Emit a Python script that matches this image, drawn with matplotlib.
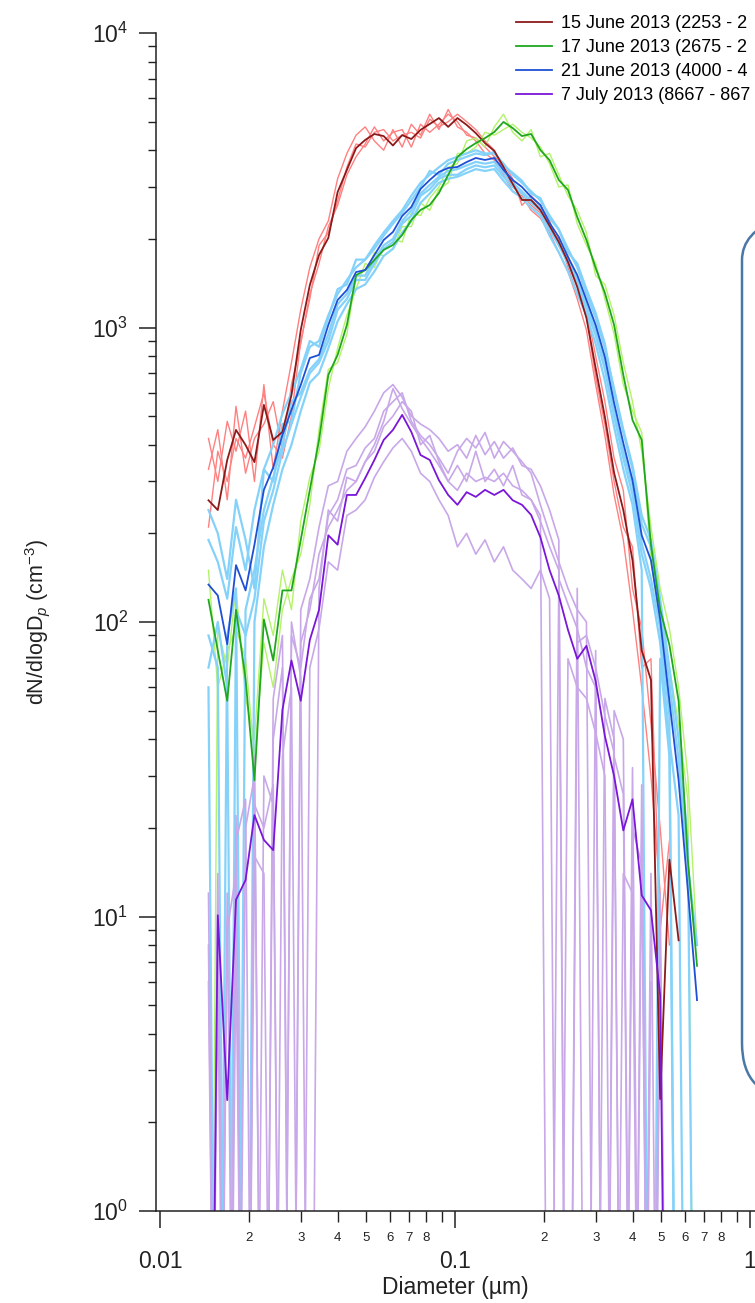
import numpy as np
import matplotlib
matplotlib.use("Agg")
import matplotlib.pyplot as plt
from matplotlib.ticker import LogLocator, FixedLocator, FuncFormatter, NullFormatter
from matplotlib.patches import FancyBboxPatch
from matplotlib.transforms import IdentityTransform

nan = np.nan

# mobility diameter bins (um)
d_um = [0.0146, 0.0157, 0.0169, 0.0181, 0.0195, 0.0209, 0.0225, 0.0242, 0.0260,
        0.0279, 0.0300, 0.0322, 0.0346, 0.0372, 0.0400, 0.0430, 0.0462, 0.0496,
        0.0533, 0.0573, 0.0616, 0.0662, 0.0711, 0.0764, 0.0821, 0.0882, 0.0948,
        0.1019, 0.1095, 0.1176, 0.1264, 0.1359, 0.1460, 0.1569, 0.1686, 0.1811,
        0.1947, 0.2092, 0.2248, 0.2415, 0.2596, 0.2789, 0.2997, 0.3221, 0.3461,
        0.3719, 0.3996, 0.4294, 0.4615, 0.4959, 0.5329, 0.5726, 0.6153, 0.6612]

# legend text as far as it is visible in the (cropped) original
labels = ["15 June 2013 (2253 - 2", "17 June 2013 (2675 - 2",
          "21 June 2013 (4000 - 4", "7 July 2013 (8667 - 867"]

# averaged size distributions, dN/dlogDp (cm-3)
jun15 = [259, 240, 355, 449, 399, 349, 546, 415, 442,
         590, 981, 1394, 1762, 2014, 2884, 3428, 4066, 4334,
         4540, 4467, 4150, 4500, 4365, 4688, 4909, 5143, 4800,
         5143, 4875, 4571, 4228, 3975, 3508, 3070, 2710, 2710,
         2506, 2213, 1951, 1669, 1372, 1077, 728, 497, 321,
         240, 162, 80, 63.5, 2.4, 15.6, 8.3, nan, nan]
jun17 = [119, 80, 54, 110, 64, 29, 102, 74, 128,
         128, 190, 281, 415, 690, 807, 1020, 1505, 1567,
         1695, 1834, 1906, 2061, 2317, 2506, 2606, 2862, 3296,
         3793, 4037, 4228, 4397, 4612, 4989, 4755, 4467, 4540,
         4005, 3700, 3169, 2931, 2372, 1982, 1592, 1310, 1020,
         690, 485, 415, 183, 110, 83.6, 54, 15.6, 6.8]
jun21 = [134, 123, 84, 156, 128, 183, 281, 335, 431,
         525, 638, 788, 807, 1020, 1240, 1341, 1543, 1567,
         1762, 1982, 2110, 2392, 2566, 2953, 3169, 3374, 3480,
         3508, 3646, 3764, 3706, 3764, 3428, 3169, 3000, 2775,
         2606, 2264, 2029, 1735, 1507, 1240, 1020, 794, 554,
         405, 303, 197, 162, 102, 54, 29, 12.3, 5.2]
jul7 = [0.01, 10.1, 2.38, 11.4, 13.3, 22.1, 18.2, 16.8, 50.3,
        74, 54, 86.9, 110, 197, 183, 270, 270, 308,
        355, 415, 449, 505, 442, 369, 355, 303, 270,
        250, 276, 266, 281, 270, 281, 259, 250, 231,
        194, 150, 123, 94, 75, 83, 63, 41, 30,
        19.6, 25, 11.8, 10.5, 5.4, 0.01, nan, nan, nan]

# individual scans
jun15_scans = [
    [420, 300, 480, 380, 520, 300, 640, 330, 520,
     760, 1150, 1600, 2000, 2300, 3200, 3900, 4500, 4800,
     4300, 4000, 4700, 4100, 4900, 4500, 5300, 4700, 5500,
     4800, 4600, 4300, 3900, 3700, 3300, 2900, 2800, 2500,
     2350, 2100, 1800, 1550, 1250, 980, 640, 430, 270,
     190, 110, 60, 30, 12, nan, nan, nan, nan],
    [330, 450, 260, 540, 320, 420, 470, 560, 380,
     640, 880, 1300, 1650, 2200, 2600, 3300, 3800, 4200,
     4800, 4300, 4600, 4700, 4100, 4900, 4600, 4900, 5300,
     5000, 4500, 4400, 4100, 3800, 3600, 3200, 2600, 2800,
     2600, 2300, 1900, 1750, 1450, 1150, 800, 560, 360,
     280, 130, 95, 45, 20, 8, nan, nan, nan],
    [210, 380, 300, 420, 360, 460, 600, 400, 360,
     500, 900, 1250, 1900, 2100, 2700, 3500, 4200, 4100,
     4600, 4700, 4300, 4500, 4600, 4400, 5100, 4800, 5000,
     5300, 5000, 4700, 4300, 4000, 3400, 3000, 2850, 2600,
     2450, 2150, 2000, 1600, 1300, 1100, 680, 470, 300,
     210, 180, 70, 75, 9, 18, nan, nan, nan],
]
jun17_scans = [
    [0.01, 95, 70, 130, 55, 40, 120, 90, 150,
     110, 220, 310, 380, 620, 850, 1100, 1350, 1650,
     1600, 1900, 2000, 1950, 2450, 2400, 2750, 3000, 3500,
     3600, 4300, 4400, 4100, 4800, 5300, 4600, 4300, 4700,
     3800, 3900, 3300, 2800, 2500, 2100, 1500, 1400, 1100,
     760, 560, 380, 210, 130, 95, 60, 30, 8],
    [150, 60, 80, 95, 75, 35, 85, 60, 110,
     140, 170, 250, 450, 720, 760, 950, 1500, 1500,
     1800, 1750, 1850, 2200, 2200, 2650, 2500, 2950, 3100,
     3900, 3900, 4100, 4600, 4500, 4700, 4900, 4600, 4400,
     4100, 3600, 3000, 3050, 2250, 1900, 1650, 1250, 950,
     640, 520, 440, 160, 100, 70, 45, 25, 0.01],
]
jun21_scans = [
    [190, 160, 120, 210, 150, 240, 330, 300, 470,
     480, 700, 860, 900, 1100, 1300, 1450, 1600, 1700,
     1900, 2100, 2300, 2500, 2800, 3100, 3300, 3500, 3700,
     3800, 3900, 4000, 3900, 3900, 3600, 3300, 3100, 2900,
     2700, 2400, 2150, 1850, 1600, 1300, 1080, 850, 620,
     450, 340, 230, 190, 120, 70, 40, 18, 0.01],
    [90, 70, 0.01, 110, 90, 120, 220, 280, 380,
     470, 580, 700, 760, 900, 1150, 1250, 1450, 1450,
     1650, 1850, 1950, 2250, 2400, 2800, 2950, 3200, 3300,
     3300, 3450, 3550, 3500, 3550, 3250, 3000, 2850, 2650,
     2500, 2150, 1900, 1650, 1400, 1150, 940, 720, 500,
     360, 270, 170, 130, 85, 40, 22, 0.01, nan],
    [240, 200, 140, 260, 190, 130, 330, 400, 510,
     600, 720, 900, 860, 1080, 1350, 1400, 1700, 1700,
     1850, 2050, 2250, 2450, 2700, 3000, 3400, 3300, 3600,
     3700, 3800, 3900, 3850, 3950, 3550, 3350, 3150, 2850,
     2750, 2350, 2150, 1800, 1650, 1350, 1120, 880, 600,
     440, 330, 215, 180, 110, 62, 34, 15, 8],
    [70, 100, 60, 0.01, 110, 150, 240, 310, 400,
     560, 600, 720, 780, 950, 1200, 1300, 1500, 1500,
     1700, 1900, 2000, 2300, 2500, 2850, 3050, 3250, 3400,
     3450, 3550, 3650, 3600, 3650, 3350, 3100, 2900, 2700,
     2550, 2200, 1950, 1700, 1450, 1200, 980, 760, 520,
     380, 290, 185, 140, 95, 48, 0.01, nan, nan],
    [60, 0.01, 90, 130, 0.01, 100, 180, 250, 330,
     400, 520, 650, 700, 850, 1050, 1200, 1350, 1400,
     1550, 1750, 1850, 2100, 2300, 2650, 2850, 3100, 3200,
     3250, 3350, 3450, 3400, 3450, 3150, 2900, 2750, 2550,
     2400, 2050, 1800, 1550, 1300, 1100, 880, 660, 460,
     330, 250, 150, 0.01, 75, 35, 0.01, nan, nan],
]
jul7_scans = [
    [0.01, 14, 0.01, 18, 25, 0.01, 30, 24, 0.01,
     90, 70, 120, 140, 230, 260, 330, 340, 390,
     420, 520, 560, 600, 480, 430, 400, 360, 320,
     380, 420, 390, 440, 360, 410, 380, 350, 320,
     250, 200, 160, 130, 110, 100, 0.01, 55, 40,
     0.01, 32, 0.01, 14, 0.01, nan, nan, nan, nan],
    [8, 0.01, 12, 0.01, 20, 30, 0.01, 40, 70,
     0.01, 85, 110, 170, 210, 240, 280, 300, 350,
     380, 460, 500, 560, 520, 400, 430, 350, 300,
     340, 300, 380, 300, 330, 290, 340, 270, 260,
     230, 0.01, 140, 115, 95, 70, 60, 0.01, 35,
     26, 0.01, 18, 0.01, 6, nan, nan, nan, nan],
    [0.01, 6, 0.01, 8, 0.01, 16, 14, 0.01, 35,
     60, 0.01, 70, 95, 160, 150, 230, 240, 260,
     310, 350, 390, 420, 380, 320, 300, 260, 230,
     180, 200, 170, 190, 160, 180, 150, 140, 130,
     150, 120, 0.01, 75, 60, 55, 42, 30, 0.01,
     14, 12, 0.01, 6, nan, nan, nan, nan, nan],
    [6, 0.01, 9, 14, 0.01, 24, 20, 28, 0.01,
     100, 65, 0.01, 130, 240, 220, 310, 300, 350,
     400, 480, 620, 530, 470, 420, 380, 340, 300,
     280, 320, 300, 310, 300, 320, 290, 280, 260,
     220, 180, 150, 0.01, 85, 90, 70, 48, 36,
     0.01, 20, 15, 0.01, 8, 0.01, nan, nan, nan],
    [12, 0.01, 0.01, 22, 0.01, 35, 0.01, 55, 90,
     0.01, 110, 140, 210, 290, 300, 380, 420, 460,
     520, 600, 640, 580, 500, 470, 450, 420, 380,
     400, 360, 430, 370, 410, 360, 390, 340, 330,
     290, 240, 190, 0.01, 130, 0.01, 80, 0.01, 50,
     40, 0.01, 28, 0.01, 12, 0.01, nan, nan, nan],
]

main_colors = ["#8c1a1a", "#1fa81f", "#1f4fd6", "#7a16d8"]
scan_colors = ["#ff8080", "#b4f26a", "#84d2fa", "#c8a8e8"]
scan_widths = [1.0, 1.0, 1.6, 1.2]

plt.rcParams['font.family'] = ['Liberation Sans', 'DejaVu Sans']
plt.rcParams['mathtext.fontset'] = 'custom'
plt.rcParams['mathtext.rm'] = 'Liberation Sans'
plt.rcParams['mathtext.it'] = 'Liberation Sans:italic'

W, H = 755, 1303
fig = plt.figure(figsize=(W / 100, H / 100), dpi=100)
ax = fig.add_axes([156 / W, 92 / H, 617.4 / W, 1178 / H])

all_scans = [jun15_scans, jun17_scans, jun21_scans, jul7_scans]
for scans, c, w in zip(all_scans, scan_colors, scan_widths):
    for s in scans:
        ax.plot(d_um, s, color=c, lw=w)

handles = []
for y, c, lab in zip([jun15, jun17, jun21, jul7], main_colors, labels):
    h, = ax.plot(d_um, y, color=c, lw=1.3, label=lab)
    handles.append(h)

ax.set_xscale('log')
ax.set_yscale('log')
ax.set_xlim(0.009693, 1.2)
ax.set_ylim(1, 1e4)
for s in ['top', 'right']:
    ax.spines[s].set_visible(False)
for s in ['left', 'bottom']:
    ax.spines[s].set_linewidth(1.1)
    ax.spines[s].set_color('#222222')

ax.xaxis.set_major_locator(FixedLocator([0.01, 0.1, 1]))
ax.xaxis.set_major_formatter(FuncFormatter(lambda v, p: '%g' % v))
ax.xaxis.set_minor_locator(LogLocator(base=10, subs=np.arange(2, 10)))

def minor_lab(v, p):
    m = int(round(v / 10 ** np.floor(np.log10(v) + 1e-9)))
    return str(m) if m <= 8 else ''

ax.xaxis.set_minor_formatter(FuncFormatter(minor_lab))
ax.yaxis.set_major_locator(LogLocator(base=10, numticks=10))
ax.yaxis.set_minor_locator(LogLocator(base=10, subs=np.arange(2, 10), numticks=20))
ax.yaxis.set_minor_formatter(NullFormatter())

ax.tick_params(which='both', direction='out', color='#222222', labelcolor='#222222')
ax.tick_params(which='major', length=12, width=1.1, labelsize=16.5)
ax.tick_params(axis='y', which='minor', length=6, width=1.0)
ax.tick_params(axis='y', which='major', pad=8)
ax.tick_params(axis='x', which='major', pad=16)
ax.tick_params(axis='x', which='minor', length=8, width=1.0, pad=7, labelsize=9.5)

ax.set_xlabel('Diameter (µm)', fontsize=16.5, color='#222222')
ax.xaxis.set_label_coords((455 - 156) / 617.4, -0.055)
ax.set_ylabel('dN/dlogD$_p$ (cm$^{-3}$)', fontsize=15.5, color='#222222')
ax.yaxis.set_label_coords(-0.168, 0.50)

fig.legend(handles, labels, loc='upper left', bbox_to_anchor=(516 / W, 1 - 15 / H),
           frameon=False, fontsize=13, handlelength=2.0, handletextpad=0.5,
           labelspacing=0.39, borderpad=0, borderaxespad=0)

box = FancyBboxPatch((742, 205), 200, 893, boxstyle='round,pad=0,rounding_size=55',
                     transform=IdentityTransform(), fill=False,
                     edgecolor='#4a78a6', lw=1.8)
fig.add_artist(box)

fig.savefig('out.png', dpi=100)
